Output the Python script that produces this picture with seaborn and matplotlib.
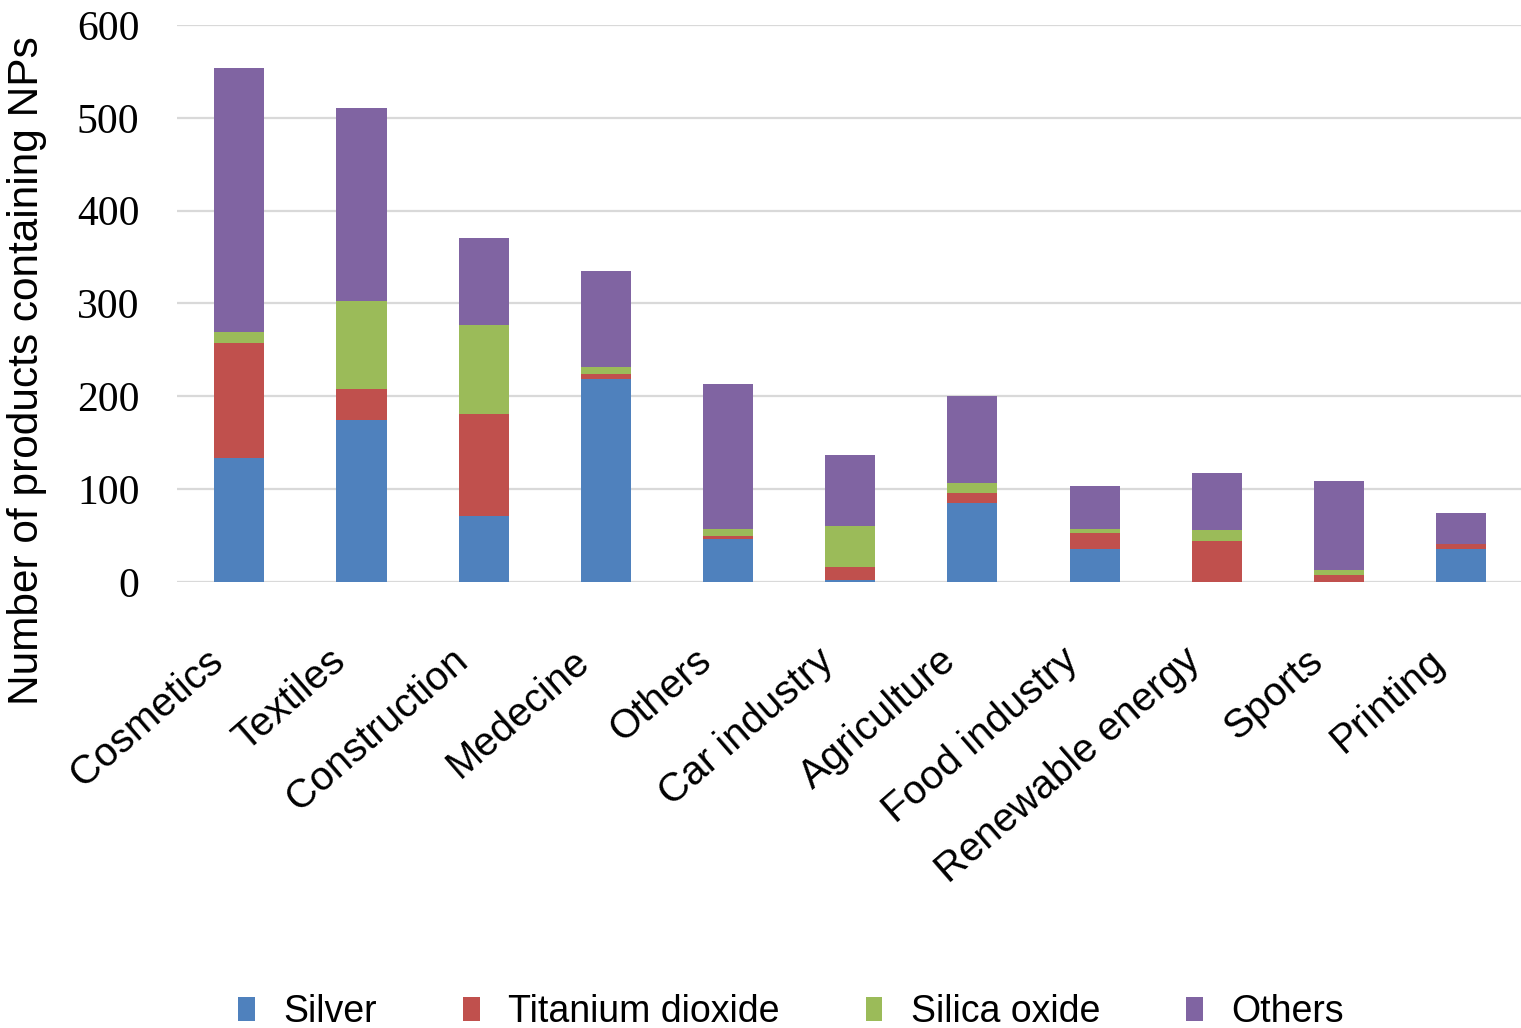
import numpy as np
import pandas as pd
import matplotlib
matplotlib.use("Agg")
import matplotlib.pyplot as plt
import matplotlib.transforms as mtransforms
import seaborn as sns
from matplotlib.patches import Patch

# Application sectors and number of products containing each type of nanoparticle
sectors = ["Cosmetics", "Textiles", "Construction", "Medecine", "Others",
           "Car industry", "Agriculture", "Food industry", "Renewable energy",
           "Sports", "Printing"]
silver = [134, 174, 71, 219, 46, 2, 85, 36, 0, 0, 35]
titanium_dioxide = [123, 34, 110, 5, 3, 14, 11, 17, 44, 8, 6]
silica_oxide = [12, 95, 96, 8, 8, 44, 11, 4, 12, 5, 0]
others = [285, 208, 94, 103, 156, 77, 93, 46, 61, 96, 33]

materials = ["Silver", "Titanium dioxide", "Silica oxide", "Others"]
colors = ["#4F81BD", "#C0504D", "#9BBB59", "#8064A2"]

yticks = [0, 100, 200, 300, 400, 500, 600]

df = pd.DataFrame({
    "sector": sectors,
    "Silver": silver,
    "Titanium dioxide": titanium_dioxide,
    "Silica oxide": silica_oxide,
    "Others": others,
})
cum = df[materials].cumsum(axis=1)

sns.set_theme(style="white")
plt.rcParams["font.family"] = ["Liberation Sans", "DejaVu Sans"]
plt.rcParams["text.color"] = "black"
plt.rcParams["axes.labelcolor"] = "black"
plt.rcParams["xtick.color"] = "black"
plt.rcParams["ytick.color"] = "black"

fig = plt.figure(figsize=(15.21, 10.28), dpi=100)
ax = fig.add_axes([0.1164, 0.4339, 0.8836, 0.5418])

# Stacked bars: draw cumulative totals from the top layer down
for mat, col in reversed(list(zip(materials, colors))):
    sns.barplot(x=df["sector"], y=cum[mat], color=col, saturation=1,
                width=0.41, linewidth=0, ax=ax, zorder=2)

ax.set_ylim(0, 600)
ax.set_xlim(-0.51, 10.49)
ax.set_yticks(yticks)
ax.set_yticklabels([str(v) for v in yticks], fontfamily="Liberation Serif",
                   fontsize=30)
ax.yaxis.grid(True, color="#d9d9d9", linewidth=1.6, zorder=0)
ax.set_axisbelow(True)
for s in ax.spines.values():
    s.set_visible(False)
ax.tick_params(axis="y", length=0, pad=27)
ax.tick_params(axis="x", length=0, pad=14)

ax.set_xlabel("")
ax.set_ylabel("Number of products containing NPs", fontsize=30.5)
ax.yaxis.set_label_coords(-0.097, 0.38)

ax.set_xticks(range(len(sectors)))
ax.set_xticklabels(sectors, rotation=41, ha="right", va="top",
                   rotation_mode="anchor", fontsize=29)
shift = mtransforms.ScaledTranslation(-34 / 100, -40 / 100, fig.dpi_scale_trans)
for lbl in ax.get_xticklabels():
    lbl.set_transform(lbl.get_transform() + shift)

handles = [Patch(facecolor=c, edgecolor="none") for c in colors]
fig.legend(handles, materials, loc="center", bbox_to_anchor=(0.52, 0.0155),
           ncol=4, frameon=False, fontsize=27, handlelength=0.45,
           handleheight=0.6, handletextpad=0.75, columnspacing=2.3)

fig.savefig("out.png", dpi=100)
